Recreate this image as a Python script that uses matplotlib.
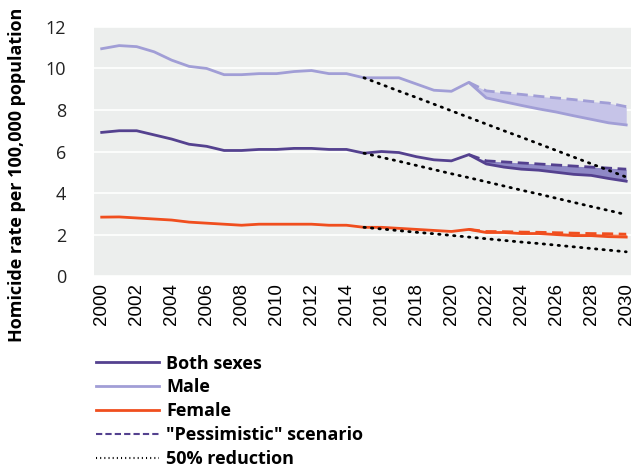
import numpy as np
import matplotlib.pyplot as plt
from matplotlib.lines import Line2D

years = list(range(2000, 2031))
both = [6.92, 7.0, 7.0, 6.8, 6.6, 6.35, 6.25, 6.05, 6.05, 6.1, 6.1, 6.15, 6.15, 6.1, 6.1,
        5.92, 6.0, 5.95, 5.75, 5.6, 5.55, 5.85, 5.4, 5.25, 5.15, 5.1, 5.0, 4.9, 4.85, 4.7, 4.57]
male = [10.95, 11.1, 11.05, 10.8, 10.4, 10.1, 10.0, 9.7, 9.7, 9.75, 9.75, 9.85, 9.9, 9.75, 9.75,
        9.55, 9.55, 9.55, 9.25, 8.95, 8.9, 9.33, 8.58, 8.4, 8.22, 8.05, 7.9, 7.72, 7.55, 7.38, 7.28]
female = [2.84, 2.85, 2.8, 2.75, 2.7, 2.6, 2.55, 2.5, 2.45, 2.5, 2.5, 2.5, 2.5, 2.45, 2.45,
          2.35, 2.35, 2.3, 2.25, 2.2, 2.15, 2.25, 2.1, 2.1, 2.05, 2.05, 2.0, 1.95, 1.95, 1.9, 1.88]

# pessimistic scenario, 2021-2030
pess_years = list(range(2021, 2031))
both_pess = [5.85, 5.55, 5.5, 5.45, 5.4, 5.35, 5.3, 5.25, 5.2, 5.15]
male_pess = [9.33, 8.92, 8.83, 8.75, 8.66, 8.58, 8.5, 8.41, 8.33, 8.16]
female_pess = [2.25, 2.15, 2.14, 2.12, 2.11, 2.09, 2.07, 2.05, 2.04, 2.02]

# 50% reduction paths, 2015-2030
red_years = list(range(2015, 2031))
male_red = [9.55, 9.23, 8.91, 8.6, 8.28, 7.96, 7.64, 7.32, 7.0, 6.69, 6.37, 6.05, 5.73, 5.41, 5.09, 4.77]
both_red = [5.92, 5.72, 5.53, 5.33, 5.13, 4.93, 4.74, 4.54, 4.34, 4.14, 3.95, 3.75, 3.55, 3.35, 3.16, 2.96]
female_red = [2.35, 2.27, 2.19, 2.11, 2.04, 1.96, 1.88, 1.8, 1.72, 1.64, 1.57, 1.49, 1.41, 1.33, 1.25, 1.17]

c_both = '#54418f'
c_male = '#a19ed6'
c_female = '#f04e1e'

fig = plt.figure(figsize=(6.34, 4.72), dpi=100)
ax = fig.add_axes([0.148, 0.415, 0.848, 0.528])
ax.set_facecolor('#eceeed')

n = len(pess_years)
ax.fill_between(pess_years, male[-n:], male_pess, color='#c6c4e8', lw=0)
ax.fill_between(pess_years, both[-n:], both_pess, color='#8f89c6', lw=0)
ax.fill_between(pess_years, female[-n:], female_pess, color='#f6a58a', lw=0)

ax.plot(years, male, color=c_male, lw=2)
ax.plot(years, both, color=c_both, lw=2)
ax.plot(years, female, color=c_female, lw=2)
ax.plot(pess_years, male_pess, color=c_male, lw=2, ls=(0, (4, 2)))
ax.plot(pess_years, both_pess, color=c_both, lw=2, ls=(0, (4, 2)))
ax.plot(pess_years, female_pess, color=c_female, lw=2, ls=(0, (4, 2)))
for r in (male_red, both_red, female_red):
    ax.plot(red_years, r, color='black', lw=2, ls=(0, (0.5, 2.2)), dash_capstyle='round')

ax.set_xlim(1999.55, 2030.3)
ax.set_ylim(0, 12)
ax.set_yticks(range(0, 13, 2))
ax.set_xticks(range(2000, 2031, 2))
ax.grid(axis='y', color='white', lw=1.2)
ax.set_axisbelow(True)
for s in ax.spines.values():
    s.set_visible(False)
ax.tick_params(length=0)
ax.tick_params(axis='y', pad=20)
ax.tick_params(axis='x', pad=5)
for t in ax.get_yticklabels():
    t.set_fontfamily('Open Sans')
    t.set_fontsize(13)
    t.set_color('#222222')
for t in ax.get_xticklabels():
    t.set_fontfamily('Liberation Sans')
    t.set_fontsize(13.5)
    t.set_rotation(90)
fig.text(17 / 634, 1 - 175 / 472, 'Homicide rate per 100,000 population', rotation=90,
         ha='center', va='center', fontfamily='Open Sans', fontweight='bold', fontsize=13)

handles = [
    Line2D([], [], color=c_both, lw=2),
    Line2D([], [], color=c_male, lw=2),
    Line2D([], [], color=c_female, lw=2),
    Line2D([], [], color=c_both, lw=1.5, ls=(0, (3, 1.5))),
    Line2D([], [], color='black', lw=1.5, ls=(0, (0.5, 1.5))),
]
labels = ['Both sexes', 'Male', 'Female', '"Pessimistic" scenario', '50% reduction']
fig.legend(handles, labels, loc='upper left', bbox_to_anchor=(0.137, 0.268),
           frameon=False, prop={'family': 'Open Sans', 'weight': 'bold', 'size': 13},
           handlelength=3.5, handletextpad=0.4, labelspacing=0.33, borderpad=0)

fig.savefig('out.png', dpi=100)
